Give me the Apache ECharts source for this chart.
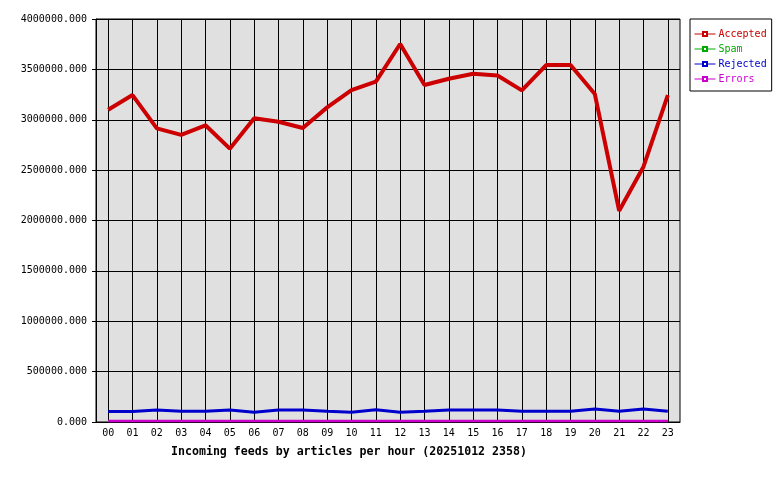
<!DOCTYPE html>
<html>
<head>
<meta charset="utf-8">
<script src="https://cdn.jsdelivr.net/npm/echarts@6/dist/echarts.min.js"></script>
<style>html,body{margin:0;padding:0;background:#fff}#c{width:780px;height:480px}</style>
</head>
<body>
<div id="c"></div>
<script>
const hours = ['00','01','02','03','04','05','06','07','08','09','10','11','12','13','14','15','16','17','18','19','20','21','22','23'];
const accepted = [3100000,3245000,2915000,2850000,2945000,2713000,3015000,2980000,2918000,3123000,3295000,3378000,3752000,3345000,3407000,3457000,3440000,3292000,3543000,3543000,3255000,2097000,2534000,3245000];
const spam = [10000,10000,10000,10000,10000,10000,10000,10000,10000,10000,10000,10000,10000,10000,10000,10000,10000,10000,10000,10000,10000,10000,10000,10000];
const rejected = [105000,105000,119000,106000,106000,119000,96000,119000,119000,106000,96000,122000,96000,106000,119000,119000,119000,106000,106000,106000,129000,106000,129000,106000];
const errors = [10000,10000,10000,10000,10000,10000,10000,10000,10000,10000,10000,10000,10000,10000,10000,10000,10000,10000,10000,10000,10000,10000,10000,10000];
const seriesNames = ['Accepted','Spam','Rejected','Errors'];
const seriesColors = ['#cc0000','#00aa00','#0000cc','#cc00cc'];
const titleText = 'Incoming feeds by articles per hour (20251012 2358)';

const font = 'DejaVu Sans Mono';
const chart = echarts.init(document.getElementById('c'), null, {renderer:'canvas'});
const dataArr = [accepted, spam, rejected, errors];
const widths = [4, 2, 3, 2.5];
chart.setOption({
  animation: false,
  backgroundColor: '#fff',
  title: {
    text: titleText, left: 171, top: 446, padding: 0,
    textStyle: {fontFamily: font, fontSize: 11.6, fontWeight: 'bold', color: '#000'}
  },
  legend: {
    orient: 'vertical', left: 690, top: 19,
    borderColor: '#000', borderWidth: 1, padding: [9, 5, 6, 4],
    itemGap: 3, itemWidth: 21, itemHeight: 5,
    lineStyle: {width: 1},
    data: seriesNames.map((n, i) => ({name: n, textStyle: {color: seriesColors[i]}})),
    textStyle: {fontFamily: font, fontSize: 10, padding: [0, 0, 0, -2], lineHeight: 12}
  },
  grid: {
    left: 96, right: 100, top: 19, bottom: 58, show: true,
    backgroundColor: '#e0e0e0', borderColor: '#000', borderWidth: 1
  },
  xAxis: {
    type: 'category', data: hours, boundaryGap: true,
    axisLine: {show: true, lineStyle: {color: '#000', width: 1}},
    axisTick: {show: false, alignWithLabel: true},
    axisLabel: {color: '#000', fontFamily: font, fontSize: 10, margin: 6, interval: 0},
    splitLine: {show: true, alignWithLabel: true, interval: 0, lineStyle: {color: '#000', width: 1}}
  },
  yAxis: {
    type: 'value', min: 0, max: 4000000, interval: 500000,
    axisLine: {show: true, lineStyle: {color: '#000'}},
    axisTick: {show: true, length: 4, lineStyle: {color: '#000'}},
    axisLabel: {color: '#000', fontFamily: font, fontSize: 10, margin: 9, formatter: v => v.toFixed(3)},
    splitLine: {show: true, lineStyle: {color: '#000', width: 1}}
  },
  series: seriesNames.map((n, i) => ({
    name: n, type: 'line', data: dataArr[i],
    symbol: 'emptyRect', symbolSize: 4, showSymbol: false,
    color: seriesColors[i],
    lineStyle: {color: seriesColors[i], width: widths[i]},
    itemStyle: {color: seriesColors[i]},
    emphasis: {disabled: true}
  }))
});
</script>
</body>
</html>
